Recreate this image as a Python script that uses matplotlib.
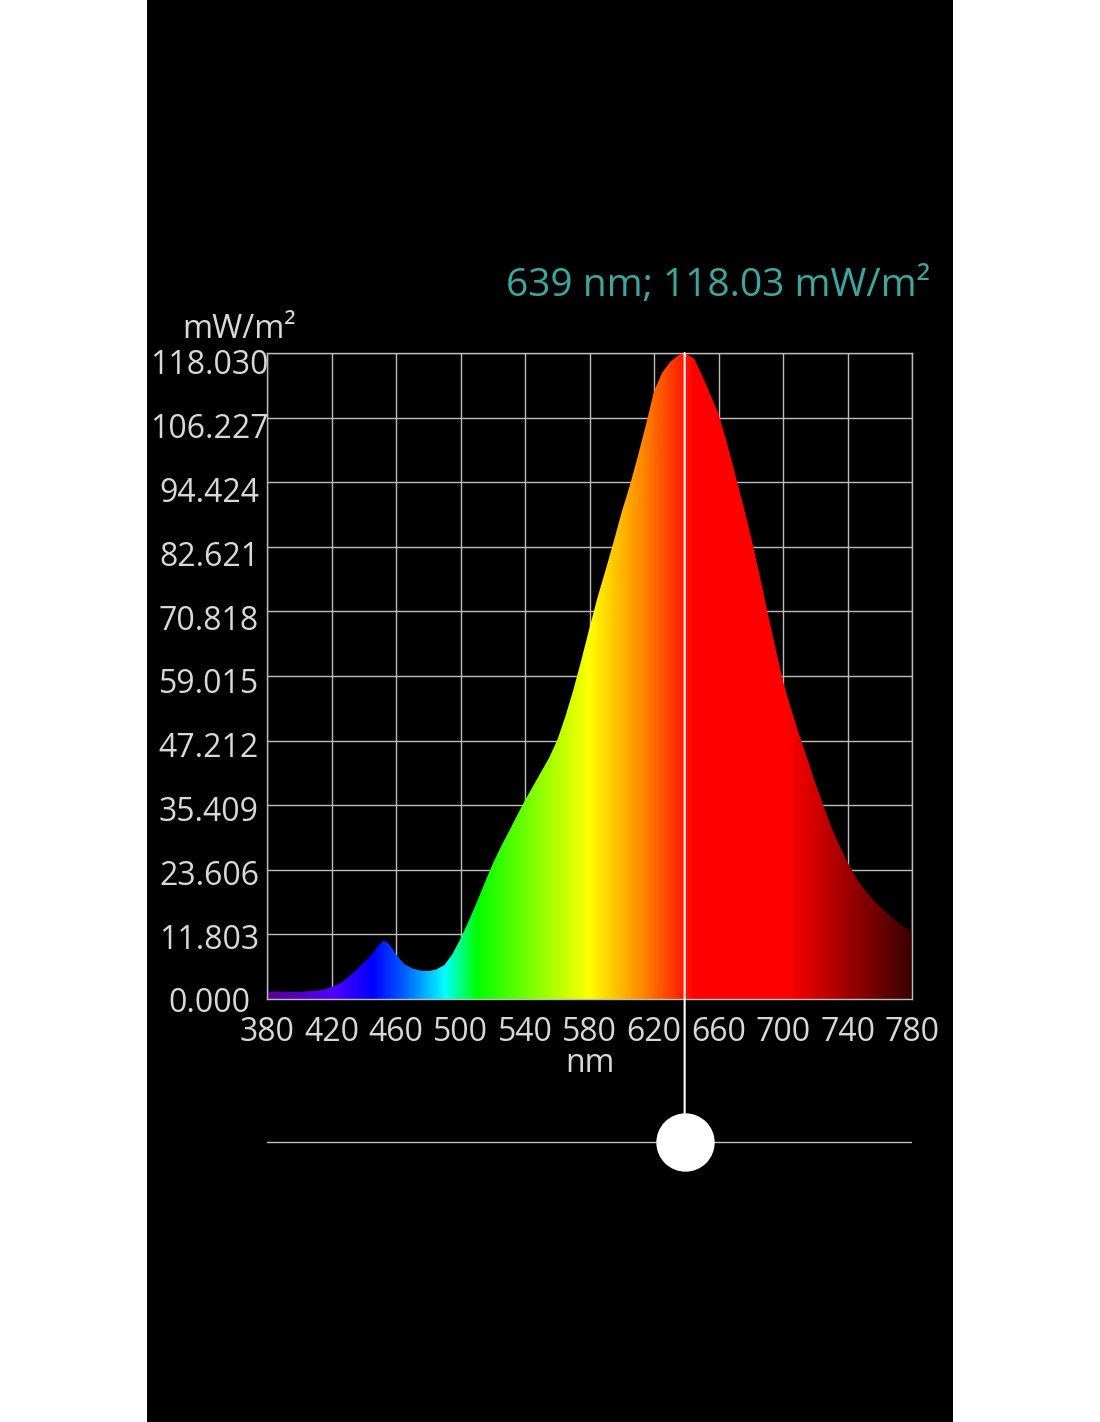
import numpy as np
import matplotlib
matplotlib.use("Agg")
import matplotlib.pyplot as plt
from matplotlib.colors import LinearSegmentedColormap
from matplotlib.patches import Rectangle, ConnectionPatch
from matplotlib.transforms import ScaledTranslation

# spectrum (nm, mW/m2)
wavelength = [380, 385, 390, 395, 400, 405, 410, 415, 420, 425, 430, 435, 440, 445,
              448, 450, 452, 454, 456, 458, 460, 465, 470, 475, 480, 485, 490, 495,
              500, 505, 510, 515, 520, 525, 530, 535, 540, 545, 550, 555, 560, 565,
              570, 575, 580, 585, 590, 595, 600, 605, 610, 615, 620, 625, 630, 635,
              639, 645, 650, 655, 660, 665, 670, 675, 680, 685, 690, 695, 700, 705,
              710, 715, 720, 725, 730, 735, 740, 745, 750, 755, 760, 765, 770, 775, 780]
irradiance = [1.3, 1.4, 1.3, 1.3, 1.3, 1.4, 1.5, 1.7, 2.2, 2.8, 3.9, 5.2, 6.7, 8.1,
              9.4, 10.0, 10.6, 10.5, 9.9, 9.1, 8.1, 6.4, 5.6, 5.2, 5.1, 5.4, 6.2, 8.2,
              11.0, 14.2, 17.6, 21.2, 24.7, 27.8, 30.6, 33.5, 36.3, 38.9, 41.5, 44.1, 47.3, 51.6,
              56.5, 62.0, 67.8, 73.4, 78.4, 83.6, 89.0, 93.8, 99.2, 104.9, 111.0, 114.4, 116.4, 117.6,
              118.03, 117.0, 113.8, 110.4, 106.9, 101.8, 96.2, 90.6, 84.6, 78.1, 71.2, 64.6, 58.0, 53.0,
              48.3, 44.0, 39.5, 35.4, 31.4, 28.0, 25.0, 22.3, 20.2, 18.4, 16.9, 15.6, 14.3, 13.2, 12.3]

x_ticks = list(range(380, 781, 40))
y_max = 118.03
y_ticks = [0.000, 11.803, 23.606, 35.409, 47.212, 59.015, 70.818, 82.621, 94.424, 106.227, 118.030]
cursor_nm = 639
cursor_value = 118.03

# colour of light along the visible range
spectrum_stops = [(380, "#5a0090"), (420, "#5000ff"), (445, "#0000ff"), (465, "#0060ff"),
                  (490, "#00ffff"), (510, "#00ff00"), (545, "#80ff00"), (580, "#ffff00"),
                  (612, "#ff8c00"), (645, "#ff0000"), (703, "#ff0000"), (780, "#3a0000")]

TEXT = "#d8d8d8"
GRID = "#bdbdbd"
TEAL = "#3aa8a0"
plt.rcParams["font.family"] = ["Open Sans", "DejaVu Sans"]

W, H = 1100, 1422
fig = plt.figure(figsize=(W / 100, H / 100), dpi=100, facecolor="white")
fig.patches.append(Rectangle((147 / W, 0), 806 / W, 1, transform=fig.transFigure,
                             facecolor="black", edgecolor="none", zorder=-10))

ax = fig.add_axes([267 / W, 1 - 999 / H, 645 / W, 646 / H])
ax.set_facecolor("black")
ax.set_xlim(380, 780)
ax.set_ylim(0, y_max)
ax.set_xticks(x_ticks)
ax.set_yticks(y_ticks)
ax.set_yticklabels([f"{v:.3f}" for v in y_ticks])
ax.grid(True, color=GRID, linewidth=1)
ax.set_axisbelow(True)
for s in ax.spines.values():
    s.set_color(GRID)
    s.set_linewidth(1)
ax.tick_params(length=0, colors=TEXT, labelsize=23)
ax.tick_params(axis="y", pad=41.8)
ax.tick_params(axis="x", pad=12.5)
# the app spreads the value labels a little lower than the grid lines
for lab, v in zip(ax.get_yticklabels(), y_ticks):
    lab.set_ha("center")
    dy = (1 + 8 * v / y_max) / 100
    lab.set_transform(lab.get_transform() + ScaledTranslation(0, -dy, fig.dpi_scale_trans))
ax.set_xlabel("nm", color=TEXT, fontsize=23, labelpad=-2)

# spectrum fill: colour gradient clipped to the area under the curve
pos = [(w - 380) / 400 for w, _ in spectrum_stops]
cmap = LinearSegmentedColormap.from_list("spec", list(zip(pos, [c for _, c in spectrum_stops])))
poly = ax.fill_between(wavelength, irradiance, 0, facecolor="none", edgecolor="none")
grad = np.linspace(0, 1, 800).reshape(1, -1)
img = ax.imshow(grad, cmap=cmap, extent=[380, 780, 0, y_max], aspect="auto", zorder=2,
                interpolation="bilinear")
img.set_clip_path(poly.get_paths()[0], transform=ax.transData)

fig.text(239 / W, 1 - 329 / H, "mW/m²", color=TEXT, fontsize=23.5, ha="center", va="center")
fig.text(930 / W, 1 - 286 / H, f"{cursor_nm} nm; {cursor_value:.2f} mW/m²", color=TEAL,
         fontsize=28, ha="right", va="center")

# slider below the chart
sl = fig.add_axes([267 / W, 1 - 1182 / H, 645 / W, 80 / H])
sl.set_xlim(380, 780)
sl.set_ylim(-1, 1)
sl.axis("off")
sl.plot([380, 780], [0, 0], color=GRID, linewidth=1)
sl.plot([cursor_nm], [0], "o", markersize=41, color="white", zorder=5)
con = ConnectionPatch(xyA=(cursor_nm, y_max), coordsA=ax.transData,
                      xyB=(cursor_nm, 0), coordsB=sl.transData,
                      color="white", linewidth=1.5, zorder=4)
fig.add_artist(con)

fig.savefig("out.png", dpi=100, facecolor="white")
